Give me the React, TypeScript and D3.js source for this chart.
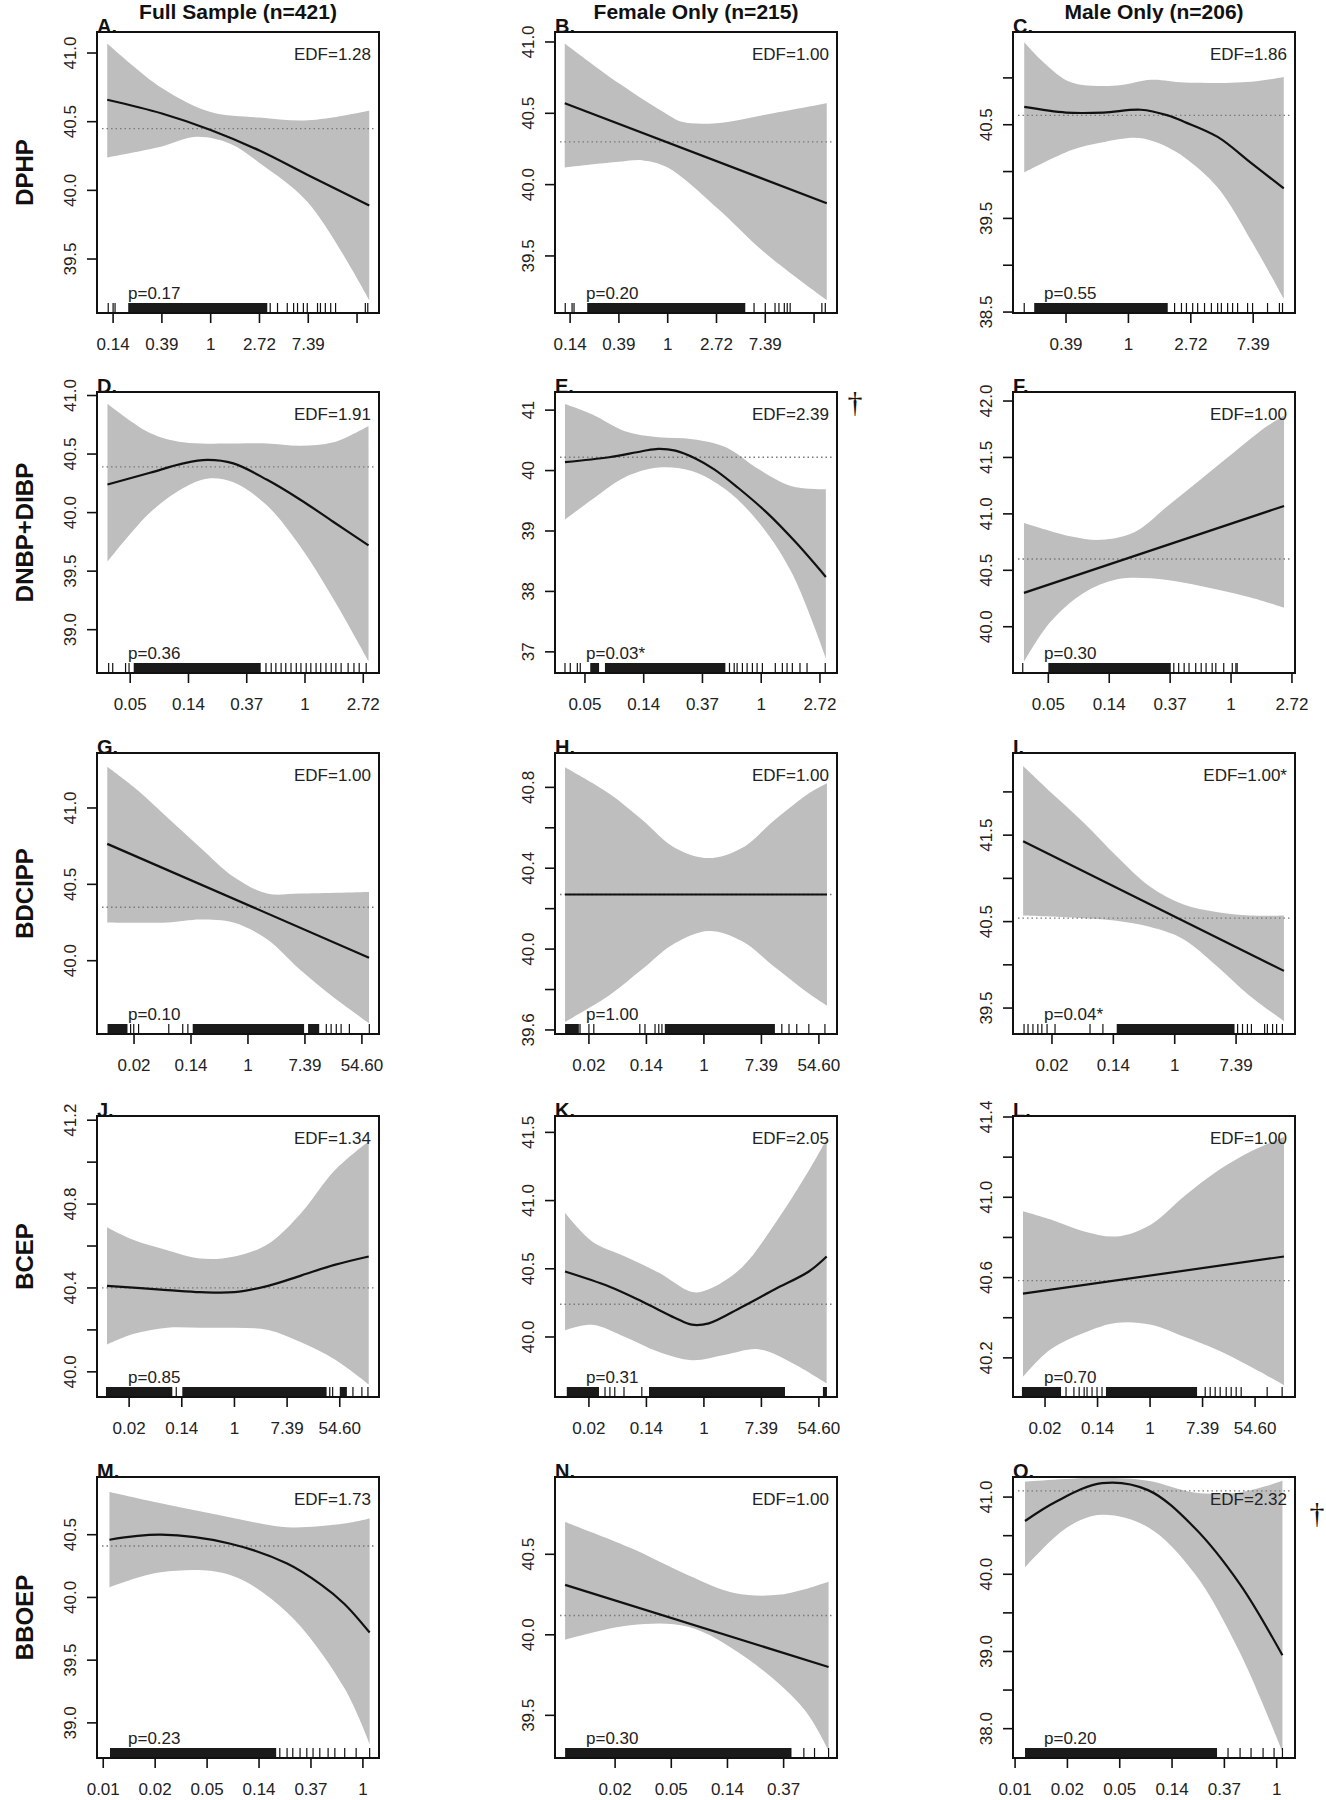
import React from "react";
import * as d3 from "d3";

// x values are ln(concentration); tick labels show e^x
const rowNames = ["DPHP", "DNBP+DIBP", "BDCIPP", "BCEP", "BBOEP"];
const columnTitles = ["Full Sample (n=421)", "Female Only (n=215)", "Male Only (n=206)"];
const panelLetters = ["A.", "B.", "C.", "D.", "E.", "F.", "G.", "H.", "I.", "J.", "K.", "L.", "M.", "N.", "O."];
const edfLabels = [
  "EDF=1.28", "EDF=1.00", "EDF=1.86",
  "EDF=1.91", "EDF=2.39", "EDF=1.00",
  "EDF=1.00", "EDF=1.00", "EDF=1.00*",
  "EDF=1.34", "EDF=2.05", "EDF=1.00",
  "EDF=1.73", "EDF=1.00", "EDF=2.32",
];
const pLabels = [
  "p=0.17", "p=0.20", "p=0.55",
  "p=0.36", "p=0.03*", "p=0.30",
  "p=0.10", "p=1.00", "p=0.04*",
  "p=0.85", "p=0.31", "p=0.70",
  "p=0.23", "p=0.30", "p=0.20",
];
const daggerPanels = [4, 14];

const xDomains = [
  [-2.33, 3.45], [-2.31, 3.47], [-1.85, 2.67],
  [-3.57, 1.27], [-3.51, 1.29], [-3.58, 1.05],
  [-5.3, 4.6], [-5.18, 4.63], [-5.27, 3.92],
  [-5.22, 5.49], [-5.18, 4.63], [-5.22, 5.52],
  [-5.12, 0.31], [-5.07, -0.05], [-5.04, 0.35],
];
const yDomains = [
  [39.107, 41.153], [39.1, 41.07], [38.49, 41.49],
  [38.63, 41.03], [36.65, 41.3], [39.59, 42.08],
  [39.52, 41.36], [39.58, 40.97], [39.2, 42.45],
  [39.88, 41.22], [39.56, 41.62], [40.005, 41.405],
  [38.72, 40.96], [39.235, 40.98], [37.62, 41.26],
];

const xTicksA = [-2, -1, 0, 1, 2, 3];
const xLabelsA = ["0.14", "0.39", "1", "2.72", "7.39", ""];
const xTicksD = [-3, -2, -1, 0, 1];
const xLabelsD = ["0.05", "0.14", "0.37", "1", "2.72"];
const xTicksG = [-4, -2, 0, 2, 4];
const xLabelsG = ["0.02", "0.14", "1", "7.39", "54.60"];
const xTicksM = [-5, -4, -3, -2, -1, 0];
const xLabelsM = ["0.01", "0.02", "0.05", "0.14", "0.37", "1"];
const xTickValues = [
  xTicksA, xTicksA, [-1, 0, 1, 2],
  xTicksD, xTicksD, xTicksD,
  xTicksG, xTicksG, [-4, -2, 0, 2],
  xTicksG, xTicksG, xTicksG,
  xTicksM, [-4, -3, -2, -1], xTicksM,
];
const xTickLabels = [
  xLabelsA, xLabelsA, ["0.39", "1", "2.72", "7.39"],
  xLabelsD, xLabelsD, xLabelsD,
  xLabelsG, xLabelsG, ["0.02", "0.14", "1", "7.39"],
  xLabelsG, xLabelsG, xLabelsG,
  xLabelsM, ["0.02", "0.05", "0.14", "0.37"], xLabelsM,
];

const yTickValues = [
  [39.5, 40, 40.5, 41], [39.5, 40, 40.5, 41], [38.5, 39, 39.5, 40, 40.5, 41],
  [39, 39.5, 40, 40.5, 41], [37, 38, 39, 40, 41], [40, 40.5, 41, 41.5, 42],
  [40, 40.5, 41], [39.6, 39.8, 40, 40.2, 40.4, 40.6, 40.8], [39.5, 40, 40.5, 41, 41.5, 42],
  [40, 40.2, 40.4, 40.6, 40.8, 41, 41.2], [40, 40.5, 41, 41.5], [40.2, 40.4, 40.6, 40.8, 41, 41.2, 41.4],
  [39, 39.5, 40, 40.5], [39.5, 40, 40.5], [38, 38.5, 39, 39.5, 40, 40.5, 41],
];
const yTickLabels = [
  ["39.5", "40.0", "40.5", "41.0"], ["39.5", "40.0", "40.5", "41.0"], ["38.5", "", "39.5", "", "40.5", ""],
  ["39.0", "39.5", "40.0", "40.5", "41.0"], ["37", "38", "39", "40", "41"], ["40.0", "40.5", "41.0", "41.5", "42.0"],
  ["40.0", "40.5", "41.0"], ["39.6", "", "40.0", "", "40.4", "", "40.8"], ["39.5", "", "40.5", "", "41.5", ""],
  ["40.0", "", "40.4", "", "40.8", "", "41.2"], ["40.0", "40.5", "41.0", "41.5"], ["40.2", "", "40.6", "", "41.0", "", "41.4"],
  ["39.0", "39.5", "40.0", "40.5"], ["39.5", "40.0", "40.5"], ["38.0", "", "39.0", "", "40.0", "", "41.0"],
];

const meanValues = [
  40.45, 40.3, 40.6,
  40.39, 40.22, 40.6,
  40.35, 40.27, 40.54,
  40.4, 40.24, 40.585,
  40.41, 40.12, 41.08,
];

const fitCurves = [
  [[-2.12, 40.66], [-1, 40.56], [0, 40.44], [1, 40.29], [2, 40.11], [3.25, 39.89]],
  [[-2.11, 40.57], [3.26, 39.87]],
  [[-1.67, 40.69], [-1.0, 40.63], [-0.4, 40.63], [0.2, 40.66], [0.63, 40.6], [0.9, 40.53], [1.43, 40.37], [1.97, 40.09], [2.49, 39.82]],
  [[-3.39, 40.24], [-2.66, 40.34], [-2.09, 40.42], [-1.68, 40.45], [-1.23, 40.42], [-0.65, 40.28], [-0.08, 40.11], [0.49, 39.92], [1.09, 39.72]],
  [[-3.34, 40.14], [-2.59, 40.22], [-2.03, 40.32], [-1.75, 40.36], [-1.46, 40.33], [-1.12, 40.2], [-0.8, 40.02], [-0.4, 39.72], [0.1, 39.3], [0.6, 38.8], [1.1, 38.24]],
  [[-3.4, 40.3], [0.87, 41.07]],
  [[-4.94, 40.765], [4.25, 40.02]],
  [[-4.83, 40.27], [4.28, 40.27]],
  [[-4.94, 41.43], [3.56, 39.93]],
  [[-4.84, 40.41], [-2.55, 40.39], [-1.29, 40.38], [0, 40.38], [1.28, 40.41], [2.55, 40.46], [3.8, 40.51], [5.1, 40.55]],
  [[-4.83, 40.48], [-3.3, 40.37], [-2.15, 40.26], [-1.0, 40.14], [-0.42, 40.09], [0.17, 40.1], [1.32, 40.22], [2.47, 40.35], [3.65, 40.48], [4.27, 40.59]],
  [[-4.84, 40.52], [5.1, 40.705]],
  [[-4.88, 40.46], [-3.89, 40.5], [-2.57, 40.43], [-1.46, 40.27], [-0.8, 40.1], [-0.36, 39.95], [0.13, 39.72]],
  [[-4.89, 40.31], [-0.2, 39.8]],
  [[-4.81, 40.69], [-4.22, 40.94], [-3.34, 41.18], [-2.46, 41.09], [-1.58, 40.61], [-0.7, 39.87], [0.11, 38.95]],
];

const upperBands = [
  [[-2.12, 41.07], [-1, 40.745], [0, 40.57], [1, 40.53], [2, 40.51], [3.25, 40.58]],
  [[-2.11, 40.99], [-1, 40.71], [0, 40.49], [0.29, 40.44], [1, 40.43], [2, 40.49], [3.26, 40.57]],
  [[-1.67, 41.38], [-1.35, 41.16], [-0.91, 40.95], [-0.18, 40.92], [0.37, 40.98], [0.9, 40.95], [1.97, 40.96], [2.49, 41.01]],
  [[-3.39, 40.93], [-2.66, 40.68], [-2.09, 40.6], [-1.23, 40.59], [-0.65, 40.59], [-0.08, 40.57], [0.49, 40.6], [1.09, 40.74]],
  [[-3.34, 41.1], [-2.88, 40.93], [-2.32, 40.65], [-1.75, 40.55], [-1.17, 40.52], [-0.61, 40.39], [-0.04, 40.02], [0.52, 39.74], [1.1, 39.69]],
  [[-3.4, 40.92], [-2.62, 40.8], [-2.13, 40.77], [-1.58, 40.84], [-1.04, 41.07], [-0.49, 41.31], [0.06, 41.55], [0.6, 41.78], [0.87, 41.87]],
  [[-4.94, 41.27], [-4.03, 41.14], [-2.84, 40.94], [-1.67, 40.74], [-0.51, 40.55], [0.67, 40.44], [1.83, 40.44], [4.25, 40.45]],
  [[-4.83, 40.9], [-3.3, 40.77], [-2.15, 40.64], [-1.0, 40.5], [0.17, 40.45], [1.32, 40.5], [2.47, 40.64], [3.65, 40.77], [4.28, 40.82]],
  [[-4.94, 42.3], [-4.05, 42.0], [-2.98, 41.65], [-1.9, 41.26], [-0.82, 40.91], [0.27, 40.7], [1.36, 40.61], [2.45, 40.57], [3.56, 40.57]],
  [[-4.84, 40.69], [-3.85, 40.63], [-2.55, 40.58], [-1.29, 40.54], [0, 40.55], [1.28, 40.61], [2.55, 40.76], [3.8, 40.96], [5.1, 41.1]],
  [[-4.83, 40.91], [-3.89, 40.7], [-2.74, 40.59], [-1.56, 40.47], [-0.42, 40.33], [0.17, 40.35], [1.32, 40.51], [2.47, 40.83], [3.65, 41.22], [4.27, 41.45]],
  [[-4.84, 40.93], [-3.81, 40.89], [-2.51, 40.83], [-1.26, 40.805], [0.04, 40.865], [1.3, 41.005], [2.55, 41.13], [3.85, 41.23], [5.1, 41.3]],
  [[-4.88, 40.84], [-3.89, 40.75], [-2.57, 40.64], [-1.46, 40.56], [-0.36, 40.59], [0.13, 40.63]],
  [[-4.89, 40.7], [-3.73, 40.54], [-2.7, 40.37], [-1.88, 40.26], [-1.05, 40.25], [-0.2, 40.33]],
  [[-4.81, 41.2], [-3.34, 41.25], [-2.46, 41.21], [-1.58, 41.06], [-0.7, 41.06], [0.11, 41.21]],
];

const lowerBands = [
  [[-2.12, 40.24], [-1, 40.32], [-0.3, 40.39], [0.4, 40.34], [1, 40.2], [2, 39.91], [3.25, 39.2]],
  [[-2.11, 40.12], [-1, 40.16], [-0.5, 40.17], [0, 40.12], [1, 39.84], [2, 39.52], [3.26, 39.19]],
  [[-1.67, 39.99], [-0.91, 40.23], [-0.43, 40.31], [0.1, 40.36], [0.37, 40.33], [0.63, 40.26], [0.9, 40.15], [1.43, 39.83], [1.97, 39.26], [2.49, 38.64]],
  [[-3.39, 39.58], [-2.66, 40.0], [-2.09, 40.21], [-1.68, 40.29], [-1.23, 40.26], [-0.65, 40.06], [-0.08, 39.71], [0.49, 39.26], [1.09, 38.73]],
  [[-3.34, 39.19], [-2.88, 39.52], [-2.32, 39.89], [-1.75, 40.05], [-1.17, 39.99], [-0.61, 39.69], [-0.04, 39.14], [0.52, 38.31], [1.1, 36.9]],
  [[-3.4, 39.69], [-2.97, 40.04], [-2.42, 40.3], [-1.87, 40.42], [-1.32, 40.43], [-0.77, 40.39], [-0.23, 40.33], [0.32, 40.26], [0.87, 40.17]],
  [[-4.94, 40.25], [-2.84, 40.25], [-1.67, 40.27], [-0.51, 40.25], [0.67, 40.14], [1.83, 39.94], [3.0, 39.76], [4.25, 39.59]],
  [[-4.83, 39.64], [-3.3, 39.77], [-2.15, 39.9], [-1.0, 40.03], [0.17, 40.09], [1.32, 40.04], [2.47, 39.91], [3.65, 39.78], [4.28, 39.72]],
  [[-4.94, 40.57], [-2.98, 40.54], [-1.9, 40.51], [-0.82, 40.44], [0.27, 40.3], [1.36, 39.99], [2.45, 39.64], [3.56, 39.35]],
  [[-4.84, 40.13], [-3.85, 40.18], [-2.55, 40.21], [-1.29, 40.21], [0, 40.21], [1.28, 40.2], [2.55, 40.14], [3.8, 40.06], [5.1, 39.94]],
  [[-4.83, 40.05], [-3.89, 40.09], [-2.74, 40.0], [-1.56, 39.89], [-0.42, 39.83], [0.75, 39.87], [1.9, 39.91], [3.07, 39.81], [4.27, 39.66]],
  [[-4.84, 40.105], [-3.81, 40.24], [-2.51, 40.325], [-1.26, 40.375], [0.04, 40.365], [1.3, 40.305], [2.55, 40.24], [3.85, 40.155], [5.1, 40.065]],
  [[-4.88, 40.08], [-3.89, 40.2], [-2.57, 40.18], [-1.46, 39.88], [-0.36, 39.28], [0.13, 38.83]],
  [[-4.89, 39.97], [-3.73, 40.06], [-2.7, 40.05], [-1.68, 39.86], [-0.64, 39.54], [-0.2, 39.28]],
  [[-4.81, 40.09], [-4.0, 40.61], [-3.34, 40.77], [-2.46, 40.61], [-1.58, 40.02], [-0.7, 38.98], [0.11, 37.7]],
];

// rug: dense runs of observations drawn as blocks, plus the sparse single ticks
const rugBlocks = [
  [[-1.69, 1.16]], [[-1.65, 1.59]], [[-1.51, 0.63]],
  [[-2.94, -0.76]], [[-2.91, -2.76], [-2.66, -0.61]], [[-3.0, -0.99]],
  [[-4.93, -4.23], [-1.94, 1.97], [2.11, 2.5]], [[-4.83, -4.35], [-1.36, 2.47]], [[-1.89, 1.95]],
  [[-4.88, -2.36], [-1.98, 3.5], [4.0, 4.27]], [[-4.77, -3.65], [-1.91, 2.82], [4.14, 4.28]], [[-4.88, -3.39], [-1.68, 1.79]],
  [[-4.87, -1.67]], [[-4.89, -0.86]], [[-4.81, -1.14]],
];
const rugTicks = [
  [-2.1, -2.0, -1.96, 1.22, 1.37, 1.57, 1.7, 1.78, 1.9, 1.98, 2.19, 2.25, 2.35, 2.46, 2.56, 3.17, 3.22],
  [-2.1, -1.96, -1.92, 1.77, 2.0, 2.2, 2.28, 2.39, 2.45, 2.51, 3.16, 3.23],
  [-1.67, 0.74, 0.85, 0.93, 1.03, 1.11, 1.22, 1.33, 1.43, 1.49, 1.59, 1.67, 1.75, 1.91, 1.99, 2.23, 2.42, 2.47],
  [-3.37, -3.3, -3.08, -3.02, -0.67, -0.58, -0.5, -0.41, -0.33, -0.24, -0.15, -0.07, 0.02, 0.1, 0.19, 0.27, 0.36, 0.45, 0.53, 0.62, 0.74, 0.84, 0.93, 1.05],
  [-3.34, -3.25, -3.13, -3.08, -0.54, -0.46, -0.41, -0.32, -0.24, -0.15, -0.07, 0.02, 0.24, 0.36, 0.44, 0.53, 0.66, 0.78, 1.09],
  [-3.42, -0.94, -0.86, -0.77, -0.69, -0.58, -0.49, -0.41, -0.31, -0.25, -0.12, 0.02, 0.08, 0.1],
  [-4.12, -4.01, -3.84, -2.78, -2.29, -2.11, 2.75, 2.92, 3.1, 3.27, 3.56, 4.26],
  [-4.31, -4.0, -3.83, -2.23, -2.05, -1.7, -1.57, -1.46, 2.71, 2.96, 3.23, 3.65, 4.21],
  [-4.91, -4.78, -4.62, -4.46, -4.33, -4.16, -3.9, -2.76, -2.34, 2.05, 2.21, 2.37, 2.5, 2.93, 3.02, 3.19, 3.32, 3.51],
  [-2.21, 3.62, 3.73, 4.5, 4.84, 5.07],
  [-3.44, -3.27, -3.1, -2.78, -2.16],
  [-3.2, -2.9, -2.7, -2.51, -2.4, -2.21, -2.02, -1.83, 2.1, 2.29, 2.48, 2.67, 2.9, 3.09, 3.28, 3.47, 4.46, 5.03],
  [-1.6, -1.46, -1.35, -1.21, -1.08, -0.96, -0.83, -0.67, -0.54, -0.35, -0.13, 0.13],
  [-0.64, -0.45, -0.2],
  [-0.93, -0.7, -0.49, -0.26, -0.05, 0.11],
];

const colLeft = [97, 555, 1013];
const rowTop = [32, 392, 753, 1116, 1477];
const boxW = 282;
const boxH = 281;
const font = "'Liberation Sans', Arial, Helvetica, sans-serif";
const textColor = "#222";

const Panel = ({ i }: { i: number }) => {
  const row = Math.floor(i / 3);
  const col = i % 3;
  const left = colLeft[col];
  const top = rowTop[row];
  const bottom = top + boxH;
  const right = left + boxW;

  const x = d3.scaleLinear().domain(xDomains[i]).range([left, right]);
  const y = d3.scaleLinear().domain(yDomains[i]).range([bottom, top]);

  const line = d3
    .line<number[]>()
    .x((d) => x(d[0]))
    .y((d) => y(d[1]))
    .curve(d3.curveCatmullRom.alpha(0.5));

  const upperPath = line(upperBands[i]) || "";
  const lowerPath = line([...lowerBands[i]].reverse()) || "";
  const bandPath = upperPath + "L" + lowerPath.slice(1) + "Z";
  const clipId = `clip-${i}`;

  return (
    <g>
      <defs>
        <clipPath id={clipId}>
          <rect x={left} y={top} width={boxW} height={boxH} />
        </clipPath>
      </defs>
      <g clipPath={`url(#${clipId})`}>
        <path d={bandPath} fill="#bebebe" />
        <line
          x1={left + 5}
          x2={right - 4}
          y1={y(meanValues[i])}
          y2={y(meanValues[i])}
          stroke="#7a7a7a"
          strokeWidth={1.3}
          strokeDasharray="1.5,3"
        />
        <path d={line(fitCurves[i]) || ""} fill="none" stroke="#111" strokeWidth={2.2} />
        {rugBlocks[i].map((b, k) => (
          <rect key={k} x={x(b[0])} y={bottom - 10} width={x(b[1]) - x(b[0])} height={10} fill="#1a1a1a" />
        ))}
        {rugTicks[i].map((v, k) => (
          <line key={k} x1={x(v)} x2={x(v)} y1={bottom} y2={bottom - 10} stroke="#111" strokeWidth={1.2} />
        ))}
      </g>
      <rect x={left} y={top} width={boxW} height={boxH} fill="none" stroke="#111" strokeWidth={2} />

      {xTickValues[i].map((v, k) => (
        <g key={k}>
          <line x1={x(v)} x2={x(v)} y1={bottom} y2={bottom + 10} stroke="#111" strokeWidth={1.6} />
          <text x={x(v)} y={bottom + 37} textAnchor="middle" fontSize={17} fontFamily={font} fill={textColor}>
            {xTickLabels[i][k]}
          </text>
        </g>
      ))}
      {yTickValues[i].map((v, k) => (
        <g key={k}>
          <line x1={left - 10} x2={left} y1={y(v)} y2={y(v)} stroke="#111" strokeWidth={1.6} />
          <text
            transform={`translate(${left - 21},${y(v)}) rotate(-90)`}
            textAnchor="middle"
            fontSize={17}
            fontFamily={font}
            fill={textColor}
          >
            {yTickLabels[i][k]}
          </text>
        </g>
      ))}

      <text x={left} y={top + 1} fontSize={20} fontWeight="bold" fontFamily={font} fill="#111">
        {panelLetters[i]}
      </text>
      <text x={right - 8} y={top + 28} textAnchor="end" fontSize={17} fontFamily={font} fill={textColor}>
        {edfLabels[i]}
      </text>
      <text x={left + 31} y={bottom - 14} fontSize={17} fontFamily={font} fill={textColor}>
        {pLabels[i]}
      </text>
      {daggerPanels.includes(i) && (
        <text
          x={right + (row === 4 ? 22 : 18)}
          y={top + (row === 4 ? 46 : 20)}
          textAnchor="middle"
          fontSize={30}
          fontFamily="'Liberation Serif', 'DejaVu Serif', serif"
          fill="#111"
        >
          †
        </text>
      )}
    </g>
  );
};

const App = () => {
  const panels = d3.range(15);
  return (
    <svg
      width={1326}
      height={1800}
      style={{ position: "absolute", left: 0, top: 0, background: "#fff" }}
    >
      <rect width={1326} height={1800} fill="#fff" />
      {columnTitles.map((t, c) => (
        <text
          key={t}
          x={colLeft[c] + boxW / 2}
          y={19}
          textAnchor="middle"
          fontSize={21}
          fontWeight="bold"
          fontFamily={font}
          fill="#111"
        >
          {t}
        </text>
      ))}
      {rowNames.map((name, r) => (
        <text
          key={name}
          transform={`translate(33,${rowTop[r] + boxH / 2}) rotate(-90)`}
          textAnchor="middle"
          fontSize={24}
          fontWeight="bold"
          fontFamily={font}
          fill="#111"
        >
          {name}
        </text>
      ))}
      {panels.map((i) => (
        <Panel key={i} i={i} />
      ))}
    </svg>
  );
};

export default App;
